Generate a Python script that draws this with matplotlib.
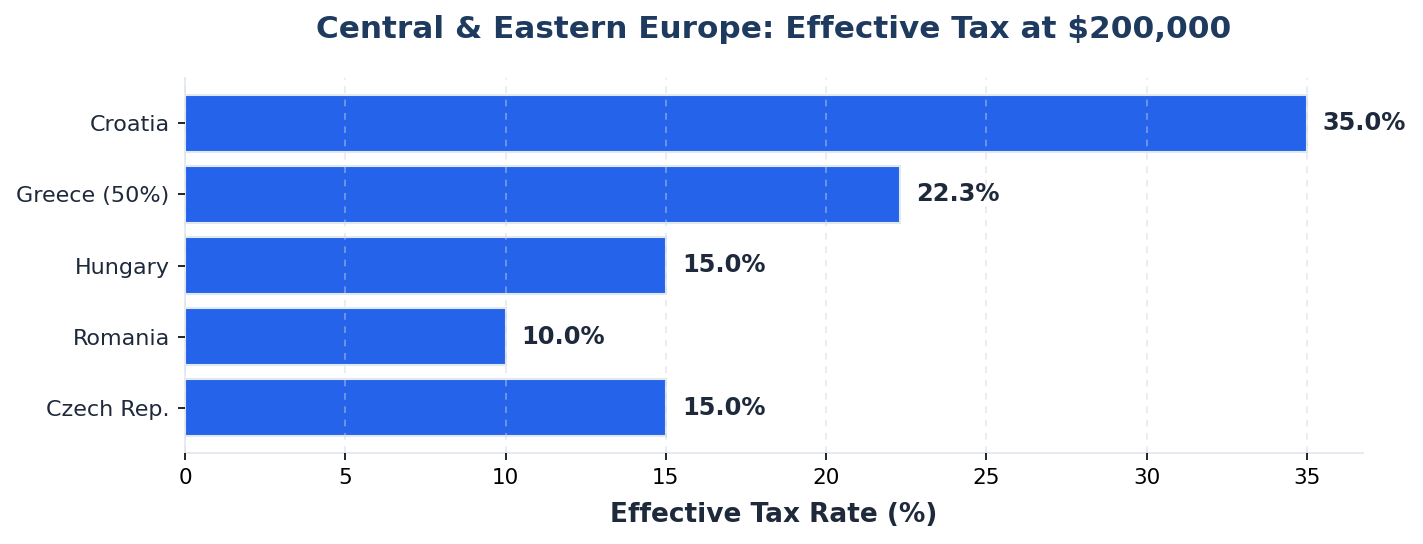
import matplotlib
matplotlib.use("Agg")
import matplotlib.pyplot as plt

countries = ["Croatia", "Greece (50%)", "Hungary", "Romania", "Czech Rep."]
rates = [35.0, 22.3, 15.0, 10.0, 15.0]
xticks = [0, 5, 10, 15, 20, 25, 30, 35]

fig = plt.figure(figsize=(14.23, 5.44), dpi=100)
ax = fig.add_axes([185/1423, 1-453/544, (1363-185)/1423, (453-78)/544])

ypos = list(range(len(countries)))
bars = ax.barh(ypos, rates, height=0.8, color="#2563eb", edgecolor="#e2e8f0", linewidth=1.5, zorder=2)
ax.invert_yaxis()
ax.set_yticks(ypos)
ax.set_yticklabels(countries, fontsize=16, color="#1e293b")
ax.set_xticks(xticks)
ax.tick_params(axis="x", labelsize=15.5, pad=6)
ax.tick_params(axis="both", length=5, width=1.2)
ax.tick_params(axis="y", pad=6)
ax.set_xlim(0, max(rates) * 1.05)

for y, v in zip(ypos, rates):
    ax.text(v + 0.5, y, f"{v:.1f}%", va="center", ha="left", fontsize=17.4, fontweight="bold", color="#1e293b")

ax.grid(axis="x", linestyle=(0, (4, 4)), color="#cbd5e1", alpha=0.5, linewidth=1.2, zorder=3)
ax.set_axisbelow(False)
for s in ["top", "right"]:
    ax.spines[s].set_visible(False)
for s in ["left", "bottom"]:
    ax.spines[s].set_color("#e2e8f0")
    ax.spines[s].set_linewidth(1.2)

ax.set_xlabel("Effective Tax Rate (%)", fontsize=19, fontweight="bold", color="#1e293b", labelpad=10)
fig.suptitle("Central & Eastern Europe: Effective Tax at $200,000", fontsize=22.4, fontweight="bold", color="#1e3a5f", x=(185+1363)/2/1423, y=1-29/544, va="center")

fig.savefig("out.png", dpi=100)
